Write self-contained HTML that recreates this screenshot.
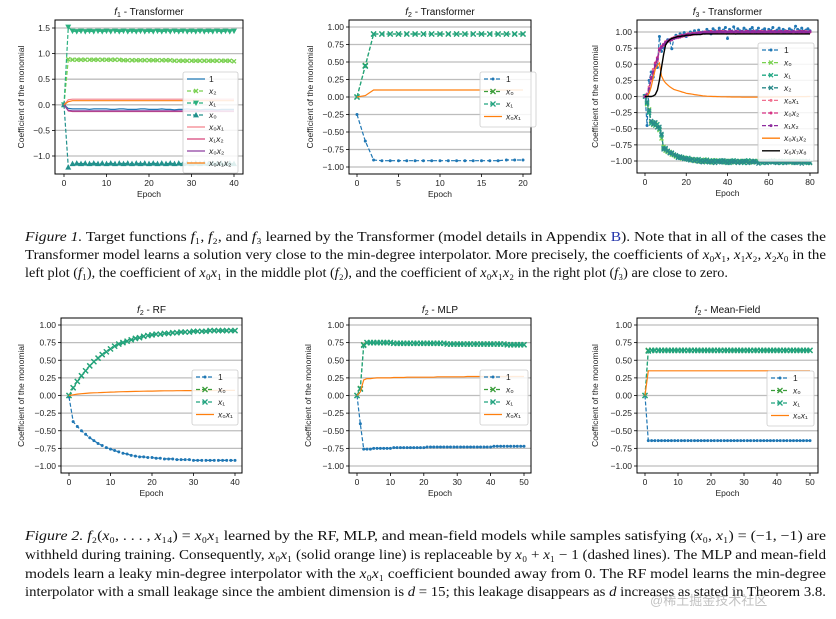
<!DOCTYPE html>
<html><head><meta charset="utf-8"><style>
html,body{margin:0;padding:0;background:#fff;}
svg{display:block;}
</style></head><body>
<svg id="root" width="836" height="619" viewBox="0 0 836 619" xmlns="http://www.w3.org/2000/svg">
<g id="charts"></g>
<g font-family="'Liberation Serif', serif" font-size="14" fill="#111">
<text x="25" y="241" textLength="801" lengthAdjust="spacingAndGlyphs"><tspan font-style="italic">Figure 1.</tspan> Target functions <tspan font-style="italic">f</tspan>₁, <tspan font-style="italic">f</tspan>₂, and <tspan font-style="italic">f</tspan>₃ learned by the Transformer (model details in Appendix <tspan fill="#2233aa">B</tspan>). Note that in all of the cases the</text>
<text x="25" y="259" textLength="801" lengthAdjust="spacingAndGlyphs">Transformer model learns a solution very close to the min-degree interpolator. More precisely, the coefficients of <tspan font-style="italic">x</tspan>₀<tspan font-style="italic">x</tspan>₁, <tspan font-style="italic">x</tspan>₁<tspan font-style="italic">x</tspan>₂, <tspan font-style="italic">x</tspan>₂<tspan font-style="italic">x</tspan>₀ in the</text>
<text x="25" y="277" textLength="703" lengthAdjust="spacingAndGlyphs">left plot (<tspan font-style="italic">f</tspan>₁), the coefficient of <tspan font-style="italic">x</tspan>₀<tspan font-style="italic">x</tspan>₁ in the middle plot (<tspan font-style="italic">f</tspan>₂), and the coefficient of <tspan font-style="italic">x</tspan>₀<tspan font-style="italic">x</tspan>₁<tspan font-style="italic">x</tspan>₂ in the right plot (<tspan font-style="italic">f</tspan>₃) are close to zero.</text>
</g>
<g font-family="'Liberation Serif', serif" font-size="14" fill="#111">
<text x="25" y="540" textLength="801" lengthAdjust="spacingAndGlyphs"><tspan font-style="italic">Figure 2.</tspan> <tspan font-style="italic">f</tspan>₂(<tspan font-style="italic">x</tspan>₀, . . . , <tspan font-style="italic">x</tspan>₁₄) = <tspan font-style="italic">x</tspan>₀<tspan font-style="italic">x</tspan>₁ learned by the RF, MLP, and mean-field models while samples satisfying (<tspan font-style="italic">x</tspan>₀, <tspan font-style="italic">x</tspan>₁) = (−1, −1) are</text>
<text x="25" y="559" textLength="801" lengthAdjust="spacingAndGlyphs">withheld during training. Consequently, <tspan font-style="italic">x</tspan>₀<tspan font-style="italic">x</tspan>₁ (solid orange line) is replaceable by <tspan font-style="italic">x</tspan>₀ + <tspan font-style="italic">x</tspan>₁ − 1 (dashed lines). The MLP and mean-field</text>
<text x="25" y="578" textLength="801" lengthAdjust="spacingAndGlyphs">models learn a leaky min-degree interpolator with the <tspan font-style="italic">x</tspan>₀<tspan font-style="italic">x</tspan>₁ coefficient bounded away from 0. The RF model learns the min-degree</text>
<text x="25" y="596" textLength="801" lengthAdjust="spacingAndGlyphs">interpolator with a small leakage since the ambient dimension is <tspan font-style="italic">d</tspan> = 15; this leakage disappears as <tspan font-style="italic">d</tspan> increases as stated in Theorem 3.8.</text>
</g>
<text x="650" y="605" font-family="'Liberation Sans','Noto Sans CJK SC',sans-serif" font-size="13" fill="#999" opacity="0.6">@稀土掘金技术社区</text>
</svg>
<script>
// ---------- f1 Transformer ----------
const f1_epochs_max = 40;
const f1_one = [0,-0.07,-0.08,-0.08,-0.08,-0.08,-0.09,-0.08,-0.08,-0.08,-0.08,-0.09,-0.09,-0.08,-0.08,-0.09,-0.09,-0.09,-0.08,-0.08,-0.09,-0.09,-0.09,-0.08,-0.09,-0.09,-0.1,-0.09,-0.09,-0.08,-0.09,-0.09,-0.1,-0.09,-0.09,-0.09,-0.1,-0.09,-0.09,-0.09,-0.09];
const f1_x2 = [0,0.89,0.88,0.88,0.88,0.88,0.88,0.88,0.88,0.88,0.88,0.88,0.88,0.88,0.87,0.87,0.87,0.87,0.87,0.87,0.87,0.87,0.87,0.87,0.87,0.87,0.86,0.86,0.86,0.86,0.86,0.86,0.86,0.86,0.86,0.86,0.86,0.86,0.86,0.86,0.85];
const f1_x1 = [0,1.52,1.44,1.43,1.44,1.43,1.44,1.43,1.44,1.43,1.44,1.43,1.44,1.43,1.44,1.43,1.44,1.43,1.44,1.43,1.44,1.43,1.44,1.43,1.44,1.43,1.44,1.43,1.44,1.43,1.44,1.43,1.44,1.43,1.44,1.43,1.44,1.43,1.44,1.43,1.44];
const f1_x0 = [0,-1.22,-1.15,-1.14,-1.15,-1.14,-1.15,-1.14,-1.15,-1.14,-1.15,-1.14,-1.15,-1.14,-1.15,-1.14,-1.15,-1.14,-1.15,-1.14,-1.15,-1.14,-1.15,-1.14,-1.15,-1.14,-1.15,-1.14,-1.15,-1.14,-1.15,-1.14,-1.15,-1.14,-1.15,-1.14,-1.15,-1.14,-1.15,-1.14,-1.15];
const f1_x0x1 = [0,0.1,0.11,0.11,0.11,0.11,0.11,0.11,0.11,0.11,0.11,0.11,0.11,0.11,0.11,0.11,0.11,0.11,0.11,0.11,0.11,0.11,0.11,0.11,0.11,0.11,0.11,0.11,0.11,0.11,0.11,0.11,0.11,0.11,0.11,0.11,0.11,0.11,0.11,0.11,0.11];
const f1_x1x2 = [0,-0.12,-0.13,-0.13,-0.13,-0.13,-0.13,-0.13,-0.13,-0.13,-0.13,-0.13,-0.13,-0.13,-0.13,-0.13,-0.13,-0.13,-0.13,-0.13,-0.13,-0.13,-0.13,-0.13,-0.13,-0.13,-0.13,-0.13,-0.13,-0.13,-0.13,-0.13,-0.13,-0.13,-0.13,-0.13,-0.13,-0.13,-0.13,-0.13,-0.13];
const f1_x0x2 = [0,-0.11,-0.12,-0.12,-0.12,-0.12,-0.12,-0.12,-0.12,-0.12,-0.12,-0.12,-0.12,-0.12,-0.12,-0.12,-0.12,-0.12,-0.12,-0.12,-0.12,-0.12,-0.12,-0.12,-0.12,-0.12,-0.12,-0.12,-0.12,-0.12,-0.12,-0.12,-0.12,-0.12,-0.12,-0.12,-0.12,-0.12,-0.12,-0.12,-0.12];
const f1_x0x1x2 = [0,0.06,0.08,0.08,0.08,0.08,0.08,0.08,0.08,0.08,0.08,0.08,0.08,0.08,0.08,0.08,0.08,0.08,0.08,0.08,0.08,0.08,0.08,0.08,0.08,0.08,0.08,0.08,0.08,0.08,0.08,0.08,0.08,0.08,0.08,0.08,0.08,0.08,0.08,0.08,0.08];
const f1_xticks = [0,10,20,30,40];
const f1_yticks = [-1.0,-0.5,0.0,0.5,1.0,1.5];
const f1_ytickLabels = ["−1.0","−0.5","0.0","0.5","1.0","1.5"];

// ---------- f2 Transformer ----------
const f2t_one = [-0.25,-0.63,-0.9,-0.91,-0.91,-0.91,-0.91,-0.91,-0.91,-0.91,-0.91,-0.91,-0.91,-0.91,-0.91,-0.91,-0.91,-0.91,-0.9,-0.9,-0.9];
const f2t_x0 = [0,0.45,0.9,0.9,0.9,0.9,0.9,0.9,0.9,0.9,0.9,0.9,0.9,0.9,0.9,0.9,0.9,0.9,0.9,0.9,0.9];
const f2t_x1 = [0,0.44,0.9,0.9,0.9,0.9,0.9,0.9,0.9,0.9,0.9,0.9,0.9,0.9,0.9,0.9,0.9,0.9,0.9,0.9,0.9];
const f2t_x0x1 = [0,0.02,0.1,0.1,0.1,0.1,0.1,0.1,0.1,0.1,0.1,0.1,0.1,0.1,0.1,0.1,0.1,0.1,0.1,0.1,0.1];
const f2t_xticks = [0,5,10,15,20];
const std_yticks = [-1.0,-0.75,-0.5,-0.25,0.0,0.25,0.5,0.75,1.0];
const std_ytickLabels = ["−1.00","−0.75","−0.50","−0.25","0.00","0.25","0.50","0.75","1.00"];

// ---------- f3 Transformer ----------
const f3_one = [0.02,-0.45,0.25,0.38,0.3,0.5,0.45,0.93,0.7,0.75,0.82,0.88,0.86,0.74,0.9,0.95,0.92,0.97,0.95,0.99,0.93,0.96,1.0,0.98,1.02,0.97,1.03,0.99,1.0,0.98,1.04,1.01,0.97,1.05,1.02,0.99,1.06,1.0,1.03,1.07,0.9,1.04,1.01,1.08,0.98,1.05,1.02,1.0,1.06,1.03,0.99,1.04,1.07,1.01,1.02,1.06,1.0,1.03,1.05,0.99,1.04,1.02,1.07,1.0,1.03,1.06,1.01,1.04,1.02,1.0,1.05,1.03,1.01,1.09,1.04,1.02,1.06,1.0,1.03,1.05,1.02];
const f3_x0 = [0,-0.12,-0.2,-0.4,-0.44,-0.42,-0.47,-0.52,-0.65,-0.78,-0.84,-0.86,-0.86,-0.9,-0.91,-0.93,-0.94,-0.94,-0.96,-0.95,-0.97,-0.98,-0.97,-0.99,-0.98,-1.0,-0.99,-1.01,-1.0,-0.98,-1.01,-1.0,-1.0,-1.02,-0.99,-1.0,-1.01,-1.0,-1.01,-1.02,-1.0,-1.0,-1.01,-1.02,-1.0,-1.01,-1.01,-1.0,-1.02,-1.01,-1.0,-1.01,-1.02,-1.0,-1.01,-1.0,-1.02,-1.01,-1.0,-1.01,-1.02,-1.0,-1.01,-1.0,-1.02,-1.01,-1.0,-1.01,-1.02,-1.0,-1.01,-1.02,-1.0,-1.01,-1.0,-1.02,-1.01,-1.0,-1.02,-1.01,-1.03];
const f3_x1 = [0,-0.1,-0.25,-0.42,-0.4,-0.45,-0.43,-0.5,-0.6,-0.8,-0.82,-0.85,-0.87,-0.88,-0.9,-0.92,-0.93,-0.95,-0.94,-0.96,-0.97,-0.95,-0.98,-0.97,-0.99,-0.98,-0.97,-1.0,-0.99,-1.01,-0.98,-1.0,-1.02,-0.99,-1.0,-1.01,-1.0,-0.99,-1.02,-1.0,-1.01,-1.03,-1.0,-0.99,-1.01,-1.02,-1.0,-1.01,-1.03,-1.0,-0.99,-1.02,-1.01,-1.0,-1.02,-1.01,-1.0,-1.03,-1.01,-1.0,-1.02,-1.01,-0.99,-1.02,-1.0,-1.01,-1.03,-1.0,-1.01,-1.02,-1.0,-1.01,-1.03,-1.0,-1.02,-1.01,-1.0,-1.02,-1.01,-1.03,-1.02];
const f3_x2 = [0,-0.08,-0.22,-0.38,-0.43,-0.4,-0.48,-0.47,-0.58,-0.82,-0.8,-0.84,-0.88,-0.87,-0.9,-0.91,-0.95,-0.93,-0.95,-0.97,-0.96,-0.98,-0.99,-0.97,-1.0,-0.98,-1.01,-0.99,-1.02,-1.0,-0.99,-1.02,-1.01,-1.0,-1.03,-1.0,-1.01,-1.02,-0.99,-1.01,-1.03,-1.0,-1.02,-1.01,-1.0,-1.03,-1.01,-1.02,-1.0,-1.01,-1.03,-1.02,-1.0,-1.01,-1.02,-1.04,-1.01,-1.0,-1.02,-1.03,-1.01,-1.0,-1.02,-1.01,-1.03,-1.02,-1.0,-1.01,-1.03,-1.02,-1.01,-1.0,-1.02,-1.03,-1.01,-1.02,-1.04,-1.01,-1.02,-1.0,-1.03];
const f3_x0x1 = [0,0.04,0.15,0.25,0.42,0.45,0.55,0.7,0.78,0.79,0.85,0.85,0.87,0.9,0.9,0.92,0.91,0.94,0.93,0.95,0.96,0.95,0.97,0.96,0.98,0.97,0.99,0.98,0.98,1.0,0.99,0.99,1.0,1.0,0.99,1.01,1.0,0.99,1.01,1.0,1.0,1.0,1.01,0.99,1.0,1.01,1.0,1.0,0.99,1.01,1.0,1.0,1.0,1.01,1.0,0.99,1.0,1.01,1.0,1.0,1.0,0.99,1.01,1.0,1.0,1.0,1.01,1.0,0.99,1.0,1.01,1.0,1.0,1.0,1.01,1.0,0.99,1.0,1.01,1.0,1.0];
const f3_x0x2 = [0,0.03,0.1,0.3,0.35,0.52,0.6,0.74,0.77,0.81,0.83,0.86,0.87,0.88,0.91,0.91,0.93,0.92,0.95,0.94,0.96,0.97,0.96,0.98,0.97,0.98,0.99,0.99,0.98,1.0,1.0,0.99,1.01,1.0,1.0,0.99,1.0,1.01,1.0,1.0,0.99,1.01,1.0,1.0,1.01,1.0,0.99,1.0,1.0,1.01,1.0,0.99,1.0,1.01,1.0,1.0,1.01,1.0,0.99,1.0,1.01,1.0,1.0,1.0,0.99,1.01,1.0,1.0,1.01,1.0,0.99,1.0,1.01,1.0,1.0,1.0,1.01,1.0,1.0,0.99,1.0];
const f3_x1x2 = [0,0.02,0.12,0.28,0.38,0.48,0.58,0.72,0.76,0.8,0.84,0.86,0.88,0.89,0.9,0.91,0.92,0.93,0.94,0.95,0.95,0.96,0.96,0.97,0.97,0.98,0.98,0.98,0.99,0.99,0.99,1.0,0.99,1.0,1.0,1.0,1.01,1.0,1.0,1.01,1.0,1.0,1.01,1.0,1.01,1.0,1.0,1.01,1.0,1.0,1.01,1.0,1.01,1.0,1.0,1.01,1.0,1.0,1.01,1.0,1.0,1.01,1.0,1.01,1.0,1.0,1.01,1.0,1.0,1.01,1.0,1.0,1.01,1.0,1.0,1.01,1.0,1.01,1.0,1.0,1.01];
const f3_x0x1x2 = [0,0.01,0.05,0.15,0.3,0.42,0.48,0.52,0.32,0.25,0.21,0.18,0.15,0.13,0.11,0.1,0.09,0.08,0.07,0.06,0.05,0.045,0.04,0.035,0.03,0.025,0.02,0.015,0.01,0.008,0.005,0.003,0.002,0,0,-0.002,-0.003,-0.004,-0.005,-0.005,-0.006,-0.006,-0.007,-0.007,-0.008,-0.008,-0.008,-0.009,-0.009,-0.009,-0.01,-0.01,-0.01,-0.01,-0.01,-0.01,-0.01,-0.01,-0.01,-0.01,-0.01,-0.009,-0.009,-0.008,-0.008,-0.007,-0.007,-0.006,-0.006,-0.005,-0.005,-0.004,-0.004,-0.003,-0.003,-0.002,-0.002,-0.001,-0.001,0,0];
const f3_x6x7x8 = [0,0,0,0,0.01,0.03,0.1,0.25,0.45,0.65,0.8,0.85,0.88,0.9,0.91,0.92,0.93,0.93,0.94,0.94,0.95,0.95,0.95,0.96,0.96,0.96,0.96,0.96,0.97,0.97,0.97,0.97,0.97,0.97,0.97,0.97,0.97,0.97,0.97,0.97,0.97,0.97,0.97,0.97,0.97,0.97,0.97,0.97,0.97,0.97,0.97,0.97,0.97,0.97,0.97,0.97,0.97,0.97,0.97,0.97,0.97,0.97,0.97,0.97,0.97,0.97,0.97,0.97,0.97,0.97,0.97,0.97,0.97,0.97,0.97,0.97,0.97,0.97,0.97,0.97,0.97];
const f3_xticks = [0,20,40,60,80];

// ---------- f2 RF ----------
const rf_one = [-0.02,-0.37,-0.44,-0.5,-0.55,-0.6,-0.64,-0.68,-0.71,-0.74,-0.76,-0.78,-0.8,-0.82,-0.83,-0.85,-0.86,-0.87,-0.87,-0.88,-0.88,-0.89,-0.89,-0.9,-0.9,-0.9,-0.91,-0.91,-0.91,-0.91,-0.92,-0.92,-0.92,-0.92,-0.92,-0.92,-0.92,-0.92,-0.92,-0.92,-0.92];
const rf_x0 = [0,0.11,0.2,0.28,0.35,0.42,0.48,0.53,0.58,0.62,0.66,0.7,0.73,0.75,0.77,0.79,0.81,0.82,0.84,0.85,0.86,0.87,0.87,0.88,0.88,0.89,0.89,0.9,0.9,0.9,0.91,0.91,0.91,0.91,0.92,0.92,0.92,0.92,0.92,0.92,0.92];
const rf_x1 = [0,0.11,0.2,0.28,0.35,0.42,0.48,0.53,0.58,0.62,0.66,0.7,0.73,0.75,0.77,0.79,0.81,0.82,0.84,0.85,0.86,0.87,0.87,0.88,0.88,0.89,0.89,0.9,0.9,0.9,0.91,0.91,0.91,0.91,0.92,0.92,0.92,0.92,0.92,0.92,0.92];
const rf_x0x1 = [0,0.01,0.02,0.025,0.03,0.035,0.038,0.04,0.043,0.045,0.048,0.05,0.052,0.054,0.055,0.057,0.058,0.06,0.061,0.062,0.063,0.064,0.065,0.066,0.066,0.067,0.068,0.068,0.069,0.069,0.07,0.07,0.07,0.071,0.071,0.071,0.072,0.072,0.072,0.072,0.072];
const rf_xticks = [0,10,20,30,40];

// ---------- f2 MLP ----------
const mlp_one = [0,-0.4,-0.76,-0.76,-0.76,-0.75,-0.75,-0.75,-0.75,-0.75,-0.75,-0.74,-0.74,-0.74,-0.74,-0.74,-0.74,-0.74,-0.74,-0.74,-0.74,-0.73,-0.73,-0.73,-0.73,-0.73,-0.73,-0.73,-0.73,-0.73,-0.73,-0.73,-0.73,-0.73,-0.73,-0.73,-0.73,-0.73,-0.73,-0.73,-0.73,-0.72,-0.72,-0.72,-0.72,-0.72,-0.72,-0.72,-0.72,-0.72,-0.72];
const mlp_x0 = [0,0.1,0.72,0.75,0.75,0.75,0.75,0.75,0.75,0.75,0.75,0.74,0.74,0.74,0.74,0.74,0.74,0.74,0.74,0.74,0.74,0.74,0.74,0.74,0.74,0.74,0.74,0.73,0.73,0.73,0.73,0.73,0.73,0.73,0.73,0.73,0.73,0.73,0.73,0.73,0.73,0.73,0.73,0.73,0.73,0.72,0.72,0.72,0.72,0.72,0.72];
const mlp_x1 = [0,0.09,0.71,0.75,0.75,0.75,0.75,0.75,0.75,0.75,0.75,0.74,0.74,0.74,0.74,0.74,0.74,0.74,0.74,0.74,0.74,0.74,0.74,0.74,0.74,0.74,0.74,0.73,0.73,0.73,0.73,0.73,0.73,0.73,0.73,0.73,0.73,0.73,0.73,0.73,0.73,0.73,0.73,0.73,0.73,0.72,0.72,0.72,0.72,0.72,0.72];
const mlp_x0x1 = [0,0.05,0.22,0.24,0.24,0.245,0.25,0.25,0.25,0.25,0.25,0.255,0.255,0.255,0.255,0.26,0.26,0.26,0.26,0.26,0.26,0.26,0.26,0.26,0.265,0.265,0.265,0.265,0.265,0.265,0.265,0.265,0.265,0.27,0.27,0.27,0.27,0.27,0.27,0.27,0.27,0.27,0.27,0.27,0.27,0.27,0.27,0.27,0.27,0.27,0.27];
const mlp_xticks = [0,10,20,30,40,50];

// ---------- f2 Mean-Field ----------
const mf_one = [0,-0.64,-0.64,-0.64,-0.64,-0.64,-0.64,-0.64,-0.64,-0.64,-0.64,-0.64,-0.64,-0.64,-0.64,-0.64,-0.64,-0.64,-0.64,-0.64,-0.64,-0.64,-0.64,-0.64,-0.64,-0.64,-0.64,-0.64,-0.64,-0.64,-0.64,-0.64,-0.64,-0.64,-0.64,-0.64,-0.64,-0.64,-0.64,-0.64,-0.64,-0.64,-0.64,-0.64,-0.64,-0.64,-0.64,-0.64,-0.64,-0.64,-0.64];
const mf_x0 = [0,0.64,0.64,0.64,0.64,0.64,0.64,0.64,0.64,0.64,0.64,0.64,0.64,0.64,0.64,0.64,0.64,0.64,0.64,0.64,0.64,0.64,0.64,0.64,0.64,0.64,0.64,0.64,0.64,0.64,0.64,0.64,0.64,0.64,0.64,0.64,0.64,0.64,0.64,0.64,0.64,0.64,0.64,0.64,0.64,0.64,0.64,0.64,0.64,0.64,0.64];
const mf_x1 = [0,0.63,0.64,0.64,0.64,0.64,0.64,0.64,0.64,0.64,0.64,0.64,0.64,0.64,0.64,0.64,0.64,0.64,0.64,0.64,0.64,0.64,0.64,0.64,0.64,0.64,0.64,0.64,0.64,0.64,0.64,0.64,0.64,0.64,0.64,0.64,0.64,0.64,0.64,0.64,0.64,0.64,0.64,0.64,0.64,0.64,0.64,0.64,0.64,0.64,0.64];
const mf_x0x1 = [0,0.35,0.35,0.35,0.35,0.35,0.35,0.35,0.35,0.35,0.35,0.35,0.35,0.35,0.35,0.35,0.35,0.35,0.35,0.35,0.35,0.35,0.35,0.35,0.35,0.35,0.35,0.35,0.35,0.35,0.35,0.35,0.35,0.35,0.35,0.35,0.35,0.35,0.35,0.35,0.35,0.35,0.35,0.35,0.35,0.35,0.35,0.35,0.35,0.35,0.35];
const mf_xticks = [0,10,20,30,40,50];

const NS = "http://www.w3.org/2000/svg";
const root = document.getElementById('charts');
function mk(tag, attrs, parent){
  const e = document.createElementNS(NS, tag);
  for (const k in attrs) e.setAttribute(k, attrs[k]);
  if (parent) parent.appendChild(e);
  return e;
}
function addLabel(t, label){
  // label: string with "x" italic and unicode subscripts
  for (const ch of label){
    const ts = mk('tspan', {}, t);
    if (ch === 'x') ts.setAttribute('font-style','italic');
    ts.textContent = ch;
  }
}
function marker(g, kind, x, y, color, s){
  s = s || 2.6;
  let m;
  if (kind === 'o') m = mk('circle', {cx:x, cy:y, r:1.5, fill:color}, g);
  else if (kind === 'x') m = mk('path', {d:`M${x-s} ${y-s}L${x+s} ${y+s}M${x-s} ${y+s}L${x+s} ${y-s}`, stroke:color, 'stroke-width':1.3, fill:'none'}, g);
  else if (kind === 'v') m = mk('path', {d:`M${x-s} ${y-s*0.8}L${x+s} ${y-s*0.8}L${x} ${y+s}Z`, fill:color}, g);
  else if (kind === '^') m = mk('path', {d:`M${x-s} ${y+s*0.8}L${x+s} ${y+s*0.8}L${x} ${y-s}Z`, fill:color}, g);
  if (m){
    
    
  }
}
function drawChart(cfg){
  const g = mk('g', {}, root);
  
  
  const [L,T,R,B] = cfg.box;
  const xa = cfg.xa, ya = cfg.ya;
  const X = v => xa[1] + (v - xa[0]) * (xa[3]-xa[1])/(xa[2]-xa[0]);
  const Y = v => ya[1] + (v - ya[0]) * (ya[3]-ya[1])/(ya[2]-ya[0]);
  // gridlines
  cfg.yticks.forEach((v,i) => {
    const gl = mk('line', {x1:L, x2:R, y1:Y(v), y2:Y(v), stroke:'#bdbdbd', 'stroke-width':1.3}, g);
    
    
    const tk = mk('line', {x1:L-3, x2:L, y1:Y(v), y2:Y(v), stroke:'#000', 'stroke-width':0.8}, g);
    
    
    const tl = mk('text', {x:L-5, y:Y(v)+3, 'text-anchor':'end', 'font-size':8.5, fill:'#222'}, g);
    
    
    tl.textContent = cfg.ylabels[i];
  });
  cfg.xticks.forEach(v => {
    const tk = mk('line', {x1:X(v), x2:X(v), y1:B, y2:B+3, stroke:'#000', 'stroke-width':0.8}, g);
    
    
    const tl = mk('text', {x:X(v), y:B+12, 'text-anchor':'middle', 'font-size':8.5, fill:'#222'}, g);
    
    
    tl.textContent = String(v);
  });
  // series
  const clipId = 'clip-' + cfg.name;
  const cp = mk('clipPath', {id:clipId}, g);
  mk('rect', {x:L, y:T, width:R-L, height:B-T}, cp);
  const sg = mk('g', {'clip-path':`url(#${clipId})`}, g);
  cfg.series.forEach(s => {
    const pts = s.data.map((v,i) => [X(i), Y(v)]);
    const pl = mk('polyline', {points: pts.map(p => p[0].toFixed(1)+','+p[1].toFixed(1)).join(' '), fill:'none', stroke:s.color, 'stroke-width':s.lw || 1.2}, sg);
    if (s.dash) pl.setAttribute('stroke-dasharray', '4,2');
    
    
    if (s.marker) pts.forEach(p => marker(sg, s.marker, p[0], p[1], s.color, s.ms));
  });
  // frame
  const fr = mk('rect', {x:L, y:T, width:R-L, height:B-T, fill:'none', stroke:'#000', 'stroke-width':1}, g);
  
  
  // title
  const tt = mk('text', {x:(L+R)/2, y:T-5, 'text-anchor':'middle', 'font-size':10, fill:'#111'}, g);
  
  
  const ti = mk('tspan', {'font-style':'italic'}, tt); ti.textContent = 'f';
  const tsub = mk('tspan', {'font-size':7, dy:2}, tt); tsub.textContent = cfg.fn;
  const trest = mk('tspan', {dy:-2}, tt); trest.textContent = ' - ' + cfg.model;
  // axis titles
  const xt = mk('text', {x:(L+R)/2, y:B+23, 'text-anchor':'middle', 'font-size':8.5, fill:'#222'}, g);
  
  
  xt.textContent = 'Epoch';
  const yx = cfg.ylabX, yy = (T+B)/2;
  const yt = mk('text', {x:yx, y:yy, 'text-anchor':'middle', 'font-size':8.5, fill:'#222', transform:`rotate(-90 ${yx} ${yy})`}, g);
  
  
  yt.textContent = 'Coefficient of the monomial';
  // legend
  const [lx, ly, lw, sp] = cfg.legend;
  const lg = mk('g', {}, g);
  
  
  const lb = mk('rect', {x:lx, y:ly, width:lw, height:cfg.series.length*sp+5, rx:2, fill:'#fff', 'fill-opacity':0.85, stroke:'#ccc', 'stroke-width':0.8}, lg);
  
  
  cfg.series.forEach((s,i) => {
    const cy = ly + 7 + i*sp;
    const eg = mk('g', {}, lg);
    
    
    const ln = mk('line', {x1:lx+4, x2:lx+22, y1:cy, y2:cy, stroke:s.color, 'stroke-width':1.3}, eg);
    if (s.dash) ln.setAttribute('stroke-dasharray', '4,2');
    if (s.marker) marker(eg, s.marker, lx+13, cy, s.color, s.ms);
    const t = mk('text', {x:lx+26, y:cy+3, 'font-size':8.5, fill:'#222'}, eg);
    addLabel(t, s.label);
  });
}
const C1='#1f77b4', GREEN='#3a9d3a', TEAL='#22a37f', ORANGE='#ff7f0e';
drawChart({name:'chart-f1-transformer', fn:'1', model:'Transformer', box:[55,20,243,174], xa:[0,64,40,234], ya:[1.5,28,-1.0,156],
  xticks:f1_xticks, yticks:f1_yticks, ylabels:f1_ytickLabels, ylabX:24, legend:[183,72,55,12],
  series:[
    {key:'one', label:'1', data:f1_one, color:C1},
    {key:'x2', label:'x₂', data:f1_x2, color:'#7ad151', dash:true, marker:'x', ms:2},
    {key:'x1', label:'x₁', data:f1_x1, color:'#2bb07f', dash:true, marker:'v', ms:3},
    {key:'x0', label:'x₀', data:f1_x0, color:'#21918c', dash:true, marker:'^', ms:3},
    {key:'x0x1', label:'x₀x₁', data:f1_x0x1, color:'#f4828c'},
    {key:'x1x2', label:'x₁x₂', data:f1_x1x2, color:'#d8457a'},
    {key:'x0x2', label:'x₀x₂', data:f1_x0x2, color:'#8e3fa0'},
    {key:'x0x1x2', label:'x₀x₁x₂', data:f1_x0x1x2, color:ORANGE}
  ]});
drawChart({name:'chart-f2-transformer', fn:'2', model:'Transformer', box:[349,20,531,174], xa:[0,357,20,523], ya:[1.0,27,-1.0,167],
  xticks:f2t_xticks, yticks:std_yticks, ylabels:std_ytickLabels, ylabX:313, legend:[480,72,56,12.5],
  series:[
    {key:'one', label:'1', data:f2t_one, color:C1, dash:true, marker:'o'},
    {key:'x0', label:'x₀', data:f2t_x0, color:GREEN, dash:true, marker:'x', ms:2.5},
    {key:'x1', label:'x₁', data:f2t_x1, color:TEAL, dash:true, marker:'x', ms:2.5},
    {key:'x0x1', label:'x₀x₁', data:f2t_x0x1, color:ORANGE}
  ]});
drawChart({name:'chart-f3-transformer', fn:'3', model:'Transformer', box:[637,20,818,173], xa:[0,645,80,810], ya:[1.0,32,-1.0,161],
  xticks:f3_xticks, yticks:std_yticks, ylabels:std_ytickLabels, ylabX:598, legend:[758,43,56,12.6],
  series:[
    {key:'one', label:'1', data:f3_one, color:C1, dash:true, marker:'o'},
    {key:'x0', label:'x₀', data:f3_x0, color:'#7ad151', dash:true, marker:'x', ms:2},
    {key:'x1', label:'x₁', data:f3_x1, color:'#22a884', dash:true, marker:'x', ms:2},
    {key:'x2', label:'x₂', data:f3_x2, color:'#2a8a8a', dash:true, marker:'x', ms:2},
    {key:'x0x1', label:'x₀x₁', data:f3_x0x1, color:'#f07090', dash:true, marker:'o'},
    {key:'x0x2', label:'x₀x₂', data:f3_x0x2, color:'#d63384', dash:true, marker:'o'},
    {key:'x1x2', label:'x₁x₂', data:f3_x1x2, color:'#8e2c9e', dash:true, marker:'o'},
    {key:'x0x1x2', label:'x₀x₁x₂', data:f3_x0x1x2, color:ORANGE},
    {key:'x6x7x8', label:'x₆x₇x₈', data:f3_x6x7x8, color:'#000', lw:1.4}
  ]});
drawChart({name:'chart-f2-rf', fn:'2', model:'RF', box:[61,318,242,473], xa:[0,69,40,235], ya:[1.0,325,-1.0,466],
  xticks:rf_xticks, yticks:std_yticks, ylabels:std_ytickLabels, ylabX:24, legend:[192,370,46,12.5],
  series:[
    {key:'one', label:'1', data:rf_one, color:C1, dash:true, marker:'o'},
    {key:'x0', label:'x₀', data:rf_x0, color:GREEN, dash:true, marker:'x', ms:2.5},
    {key:'x1', label:'x₁', data:rf_x1, color:TEAL, dash:true, marker:'x', ms:2.5},
    {key:'x0x1', label:'x₀x₁', data:rf_x0x1, color:ORANGE}
  ]});
drawChart({name:'chart-f2-mlp', fn:'2', model:'MLP', box:[349,318,531,473], xa:[0,357,50,524], ya:[1.0,325,-1.0,466],
  xticks:mlp_xticks, yticks:std_yticks, ylabels:std_ytickLabels, ylabX:311, legend:[480,370,48,12.5],
  series:[
    {key:'one', label:'1', data:mlp_one, color:C1, dash:true, marker:'o'},
    {key:'x0', label:'x₀', data:mlp_x0, color:GREEN, dash:true, marker:'x', ms:2.5},
    {key:'x1', label:'x₁', data:mlp_x1, color:TEAL, dash:true, marker:'x', ms:2.5},
    {key:'x0x1', label:'x₀x₁', data:mlp_x0x1, color:ORANGE}
  ]});
drawChart({name:'chart-f2-mean-field', fn:'2', model:'Mean-Field', box:[637,318,818,473], xa:[0,645,50,810], ya:[1.0,325,-1.0,466],
  xticks:mf_xticks, yticks:std_yticks, ylabels:std_ytickLabels, ylabX:598, legend:[767,371,47,12.5],
  series:[
    {key:'one', label:'1', data:mf_one, color:C1, dash:true, marker:'o'},
    {key:'x0', label:'x₀', data:mf_x0, color:GREEN, dash:true, marker:'x', ms:2.5},
    {key:'x1', label:'x₁', data:mf_x1, color:TEAL, dash:true, marker:'x', ms:2.5},
    {key:'x0x1', label:'x₀x₁', data:mf_x0x1, color:ORANGE}
  ]});
document.querySelectorAll('#charts text').forEach(t => { t.setAttribute('font-family', "'Liberation Sans', 'DejaVu Sans', sans-serif"); });
</script>
</body></html>
